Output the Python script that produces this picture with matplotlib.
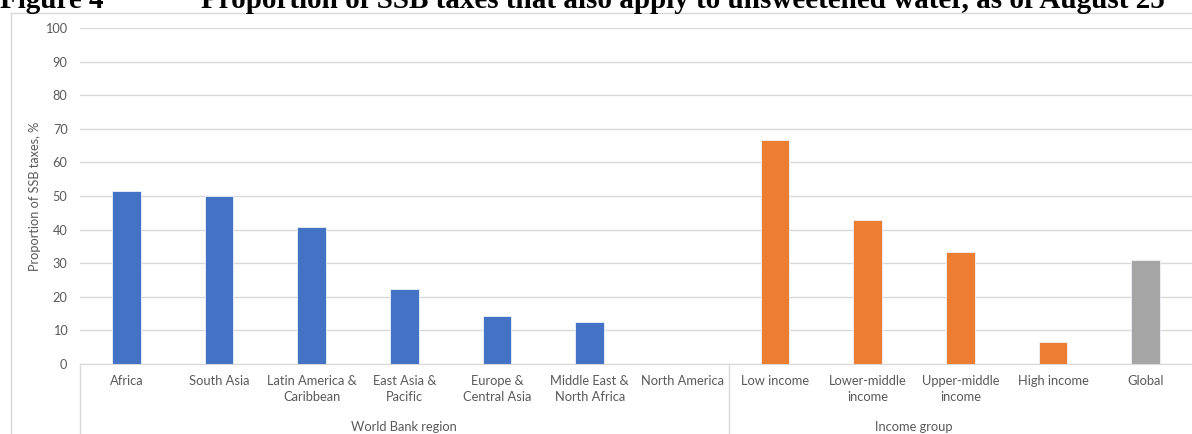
import numpy as np
import matplotlib
matplotlib.use("Agg")
import matplotlib.pyplot as plt
from matplotlib.lines import Line2D

# data
categories = ["Africa", "South Asia", "Latin America &\nCaribbean", "East Asia &\nPacific",
              "Europe &\nCentral Asia", "Middle East &\nNorth Africa", "North America",
              "Low income", "Lower-middle\nincome", "Upper-middle\nincome", "High income", "Global"]
values = [51.4, 50.0, 40.9, 22.2, 14.3, 12.5, 0.0, 66.7, 42.9, 33.3, 6.5, 31.0]
groups = ["World Bank region", "Income group"]
group_sizes = [7, 4]
bar_colors = ["#4472C4"] * 7 + ["#ED7D31"] * 4 + ["#A5A5A5"]

W, H = 1192, 434
plt.rcParams['font.family'] = ['Lato', 'DejaVu Sans']
fig = plt.figure(figsize=(W / 100, H / 100), dpi=100)

# plot area in pixels: left 80, right 1192, y=0 at 364, y=100 at 28
ax = fig.add_axes([80 / W, (H - 364) / H, (W - 80) / W, (364 - 28) / H])
x = np.arange(len(categories))
ax.bar(x, values, width=0.31, color=bar_colors, edgecolor="#eef2fa", linewidth=0.6, zorder=3)
ax.set_xlim(-0.5, len(categories) - 0.5)
ax.set_ylim(0, 100)
ax.set_yticks(np.arange(0, 101, 10))
ax.grid(axis="y", color="#d9d9d9", linewidth=1, zorder=0)
for s in ["top", "right", "left"]:
    ax.spines[s].set_visible(False)
ax.spines["bottom"].set_color("#d9d9d9")
ax.tick_params(axis="y", length=0, pad=9, labelsize=9.2, labelcolor="#595959")
ax.set_xticks(x)
ax.set_xticklabels(categories, fontsize=9.3, color="#595959", linespacing=1.42)
ax.tick_params(axis="x", length=0, pad=8)
ax.set_ylabel("Proportion of SSB taxes, %", fontsize=9.2, color="#595959")
ax.yaxis.set_label_coords(-0.035, 0.5)

# group labels and separators
tr = ax.get_xaxis_transform()
start = -0.5
for g, n in zip(groups, group_sizes):
    ax.add_line(Line2D([start, start], [0, -0.21], transform=tr, color="#d9d9d9",
                       linewidth=1, clip_on=False))
    ax.text(start + n / 2, -0.188, g, transform=tr, ha="center", va="center",
            fontsize=9.3, color="#595959")
    start += n

# outer chart frame
fig.add_artist(Line2D([10.5 / W, 10.5 / W], [0, (H - 13) / H], color="#d9d9d9", linewidth=1))
fig.add_artist(Line2D([10.5 / W, 1], [(H - 13) / H, (H - 13) / H], color="#d9d9d9", linewidth=1))

# title (clipped at top in the reference)
fig.text(0, (H - 8) / H, "Figure 4", fontsize=21, fontweight="bold",
         family="Liberation Serif", va="baseline", ha="left")
fig.text(201 / W, (H - 8) / H,
         "Proportion of SSB taxes that also apply to unsweetened water, as of August 25",
         fontsize=21, fontweight="bold", family="Liberation Serif", va="baseline", ha="left")

fig.savefig("out.png", dpi=100)
